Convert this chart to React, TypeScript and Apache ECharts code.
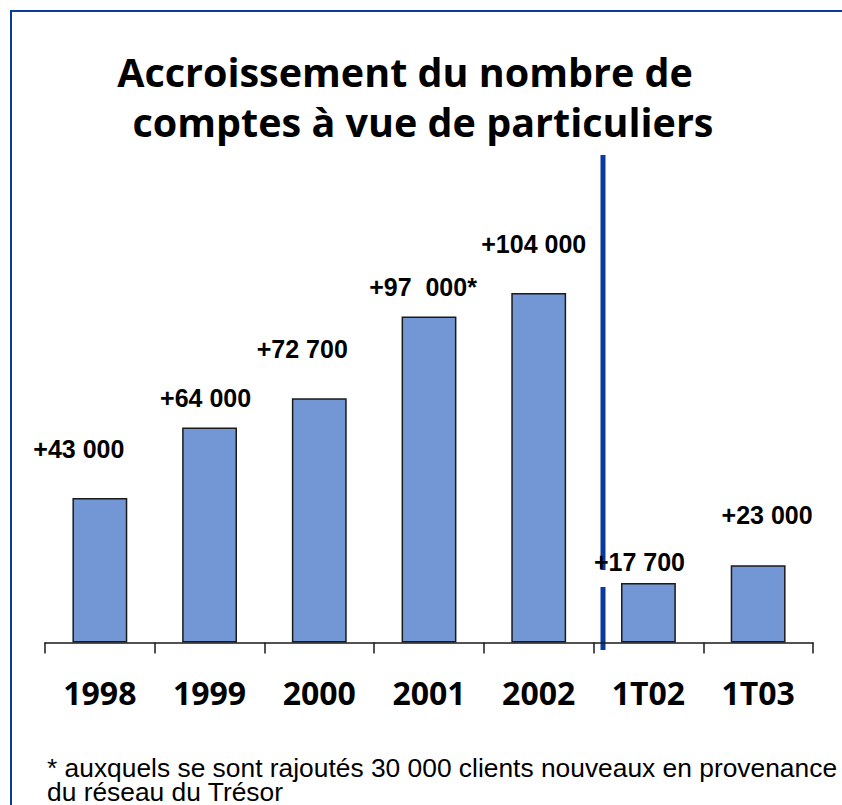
import React, { useEffect, useRef } from "react";
import * as echarts from "echarts";

const categories = ["1998", "1999", "2000", "2001", "2002", "1T02", "1T03"];
const values = [43000, 64000, 72700, 97000, 104000, 17700, 23000];
const valueLabels = ["+43 000", "+64 000", "+72 700", "+97  000*", "+104 000", "+17 700", "+23 000"];
const titleLines = ["Accroissement du nombre de", "comptes à vue de particuliers"];
const footnoteLines = [
  "* auxquels se sont rajoutés 30 000 clients nouveaux en provenance",
  "du réseau du Trésor",
];
const labelOffsets = [
  [-21, -36.5],
  [-4, -16.5],
  [-17, -36.5],
  [-6, -17.5],
  [-5, -37],
  [-9, -9],
  [9, -37.5],
];

export default function App() {
  const ref = useRef<HTMLDivElement>(null);
  useEffect(() => {
    if (!ref.current) return;
    const chart = echarts.init(ref.current, null, { renderer: "svg" });
    const blue = "#0a3a9e";
    const lineStyle = {
      fontFamily: "Open Sans",
      fontWeight: "bold",
      fontSize: 39.5,
      lineHeight: 50,
      color: "#000",
    };
    chart.setOption({
      animation: false,
      backgroundColor: "#ffffff",
      title: {
        text: `{a|${titleLines[0]}}\n{b|${titleLines[1]}}`,
        left: 414,
        top: 47,
        padding: 0,
        textAlign: "center",
        textStyle: {
          fontFamily: "Open Sans",
          fontWeight: "bold",
          fontSize: 39.5,
          lineHeight: 50,
          color: "#000",
          rich: {
            a: { ...lineStyle, padding: [0, 18, 0, 0] },
            b: { ...lineStyle, padding: [0, 0, 0, 18] },
          },
        },
      },
      grid: { left: 45, right: 29, top: 138.5, bottom: 805 - 642.5, containLabel: false },
      xAxis: {
        type: "category",
        data: categories,
        axisLine: { show: true, lineStyle: { color: "#1a1a1a", width: 1.5 } },
        axisTick: { show: true, length: 11, lineStyle: { color: "#1a1a1a", width: 1.5 } },
        axisLabel: {
          margin: 34,
          fontFamily: "Open Sans",
          fontWeight: "bold",
          fontSize: 32,
          color: "#000",
        },
      },
      yAxis: { type: "value", min: 0, max: 150000, show: false, splitLine: { show: false } },
      series: [
        {
          type: "bar",
          barWidth: "50%",
          data: values.map((v, i) => ({
            value: v,
            label: {
              show: true,
              position: "top",
              distance: 0,
              offset: labelOffsets[i],
              formatter: valueLabels[i],
              fontFamily: "Liberation Sans",
              fontWeight: "bold",
              fontSize: 25,
              color: "#000",
            },
          })),
          itemStyle: { color: "#7396d4", borderColor: "#1a1a1a", borderWidth: 1.5 },
        },
      ],
      graphic: [
        { type: "line", shape: { x1: 10.5, y1: 11, x2: 842, y2: 11 }, style: { stroke: blue, lineWidth: 2 } },
        { type: "line", shape: { x1: 11, y1: 10, x2: 11, y2: 805 }, style: { stroke: blue, lineWidth: 2 } },
        { type: "line", shape: { x1: 603, y1: 155, x2: 603, y2: 570 }, style: { stroke: blue, lineWidth: 5 } },
        { type: "line", shape: { x1: 603, y1: 587, x2: 603, y2: 650 }, style: { stroke: blue, lineWidth: 5 } },
        {
          type: "text",
          x: 47,
          y: 756,
          scaleX: 1.055,
          style: {
            text: footnoteLines.join("\n"),
            fontFamily: "Liberation Sans",
            fontSize: 25,
            lineHeight: 24,
            fill: "#000",
          },
        },
      ],
    });
    return () => chart.dispose();
  }, []);
  return (
    <div
      ref={ref}
      style={{ position: "fixed", left: 0, top: 0, width: 842, height: 805 }}
    />
  );
}
